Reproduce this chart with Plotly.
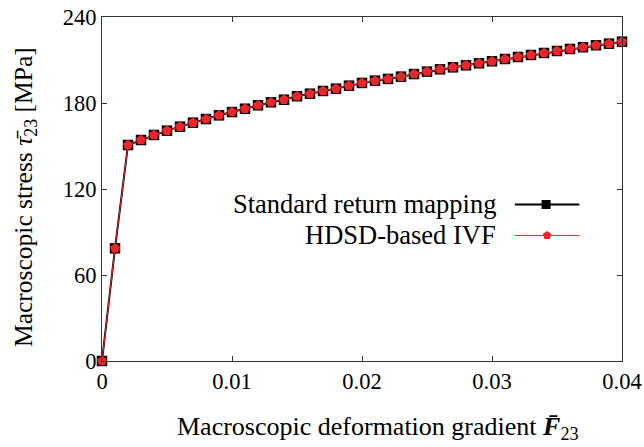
import plotly.graph_objects as go

strain = [i * 0.001 for i in range(41)]
stress_standard = [0, 78.6, 150.7, 154.2, 157.7, 160.7, 163.5, 166.3, 168.8, 171.4,
                   173.7, 176.0, 178.4, 180.5, 182.3, 184.7, 186.5, 188.4, 190.0, 192.1,
                   194.0, 195.6, 196.8, 198.4, 200.2, 201.9, 203.5, 204.9, 206.3, 207.7,
                   209.1, 210.7, 212.1, 213.5, 214.9, 216.3, 217.7, 218.9, 220.3, 221.4, 222.8]
stress_hdsd = list(stress_standard)
x_ticks = [0, 0.01, 0.02, 0.03, 0.04]
x_ticklabels = ["0", "0.01", "0.02", "0.03", "0.04"]
y_ticks = [0, 60, 120, 180, 240]
names = ["Standard return mapping", "HDSD-based IVF"]
x_title = "Macroscopic deformation gradient <b><i>F̄</i></b><sub>23</sub>"
y_title = "Macroscopic stress <i>τ̄</i><sub>23</sub> [MPa]"

RED = "#e8262b"
FONT = "Liberation Serif"

fig = go.Figure()
fig.add_trace(go.Scatter(x=strain, y=stress_standard, mode="lines+markers",
                         line=dict(color="black", width=2),
                         marker=dict(symbol="square", size=10.5, color="black"),
                         name=names[0], showlegend=False, cliponaxis=False))
fig.add_trace(go.Scatter(x=strain, y=stress_hdsd, mode="lines+markers",
                         line=dict(color=RED, width=1),
                         marker=dict(symbol="pentagon", size=10.5, color=RED),
                         name=names[1], showlegend=False, cliponaxis=False))

# legend samples on an overlay axis (symbol to the right of the text, as in the reference)
LY1, LY2 = 0.455, 0.365
fig.add_trace(go.Scatter(x=[0.794, 0.858, 0.918], y=[LY1] * 3, xaxis="x2", yaxis="y2",
                         mode="lines", line=dict(color="black", width=2), showlegend=False, hoverinfo="skip"))
fig.add_trace(go.Scatter(x=[0.854], y=[LY1], xaxis="x2", yaxis="y2", mode="markers",
                         marker=dict(symbol="square", size=9, color="black"), showlegend=False, hoverinfo="skip"))
fig.add_trace(go.Scatter(x=[0.794, 0.858, 0.918], y=[LY2] * 3, xaxis="x2", yaxis="y2",
                         mode="lines", line=dict(color=RED, width=1), showlegend=False, hoverinfo="skip"))
fig.add_trace(go.Scatter(x=[0.856], y=[LY2], xaxis="x2", yaxis="y2", mode="markers",
                         marker=dict(symbol="pentagon", size=9, color=RED), showlegend=False, hoverinfo="skip"))

axis_common = dict(showline=True, linecolor="#333", linewidth=1, mirror="ticks",
                   ticks="inside", ticklen=5, tickcolor="#333", showgrid=False, zeroline=False,
                   automargin=False, ticklabeloverflow="allow",
                   tickfont=dict(family=FONT, size=22.5, color="black"))

fig.update_layout(
    width=644, height=447,
    margin=dict(l=102, r=22, t=17, b=86, autoexpand=False),
    paper_bgcolor="white", plot_bgcolor="white",
    font=dict(family=FONT, color="black"),
    xaxis=dict(range=[0, 0.04], tickvals=x_ticks, ticktext=x_ticklabels, **axis_common),
    yaxis=dict(range=[0, 240], tickvals=y_ticks, **axis_common),
    xaxis2=dict(domain=[0, 1], range=[0, 1], overlaying="x", visible=False, anchor="y2", fixedrange=True),
    yaxis2=dict(domain=[0, 1], range=[0, 1], overlaying="y", visible=False, anchor="x2", fixedrange=True),
    annotations=[
        dict(text=names[0], x=0.762, y=LY1, xref="x2", yref="y2", xanchor="right", yanchor="middle",
             showarrow=False, font=dict(family=FONT, size=26.5, color="black")),
        dict(text=names[1], x=0.762, y=LY2, xref="x2", yref="y2", xanchor="right", yanchor="middle",
             showarrow=False, font=dict(family=FONT, size=26.5, color="black")),
        dict(text=x_title, x=0.531, y=-0.195, xref="paper", yref="paper",
             xanchor="center", yanchor="middle", showarrow=False,
             font=dict(family=FONT, size=26, color="black")),
        dict(text=y_title, x=-0.148, y=0.477, xref="paper", yref="paper", textangle=-90,
             xanchor="center", yanchor="middle", showarrow=False,
             font=dict(family=FONT, size=25.5, color="black")),
    ],
)

fig.write_html("out.html", config={"displayModeBar": False},
               post_script="document.body.style.margin='0';document.body.style.overflow='hidden';")
